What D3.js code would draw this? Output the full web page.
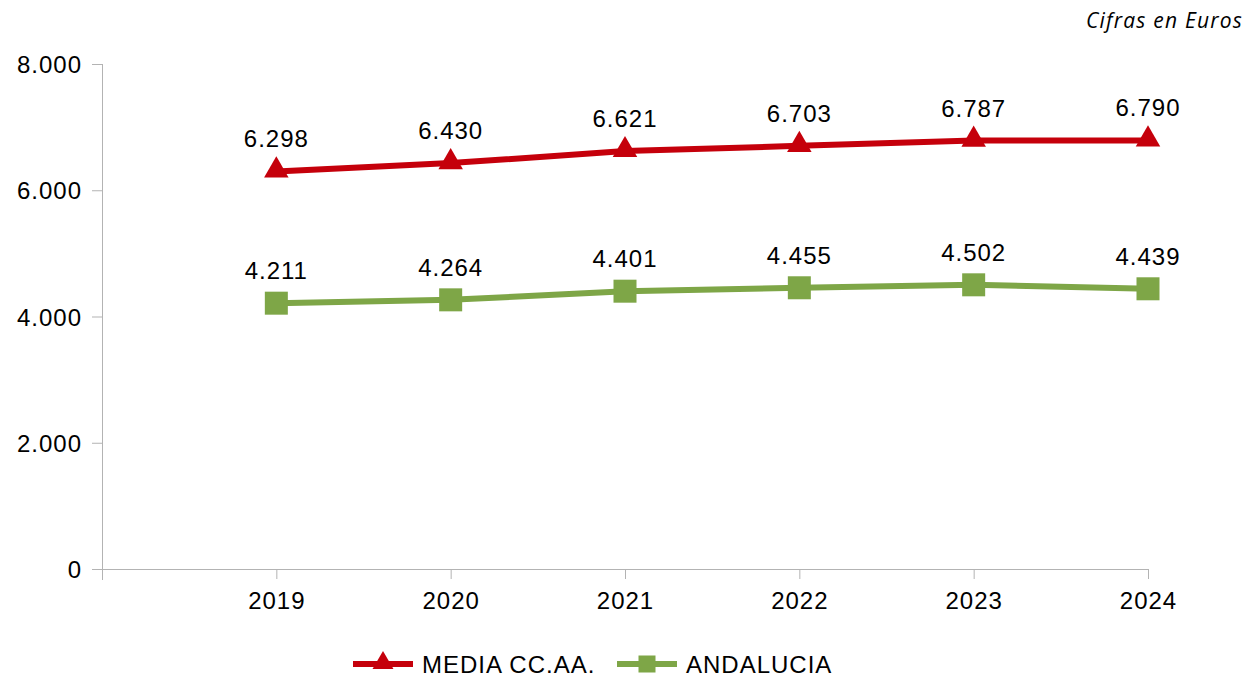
<!DOCTYPE html>
<html>
<head>
<meta charset="utf-8">
<script src="https://cdn.jsdelivr.net/npm/d3@7"></script>
<style>
  body { margin: 0; background: #fff; }
  svg text { font-family: "Liberation Sans", Arial, sans-serif; fill: #000; letter-spacing: 1px; }
</style>
</head>
<body>
<svg id="chart-svg" width="1247" height="677"></svg>
<script>
// data
var years = ["2019", "2020", "2021", "2022", "2023", "2024"];
var mediaCCAA = [6298, 6430, 6621, 6703, 6787, 6790];
var andalucia = [4211, 4264, 4401, 4455, 4502, 4439];
var yTicks = [0, 2000, 4000, 6000, 8000];

var series = [
	{ name: "MEDIA CC.AA.", values: mediaCCAA, color: "#C5000B", marker: "triangle" },
	{ name: "ANDALUCIA", values: andalucia, color: "#7EA647", marker: "square" }
];

var svg = d3.select('#chart-svg');
var plotLeft = 102, plotRight = 1148, plotTop = 64, plotBottom = 569;
var axisColor = "#b3b3b3";

// first slot is empty so 2019 sits one step away from the y axis
var xScale = d3.scalePoint().domain([""].concat(years)).range([plotLeft, plotRight]);
var yScale = d3.scaleLinear().domain([0, 8000]).range([plotBottom, plotTop]);

var fmt = function(v) {
	return d3.format(",")(v).replace(/,/g, ".");
};

// y axis
var yAxis = svg.append("g")
	.attr("class", "y axis")
	.attr("transform", "translate(" + plotLeft + ",0)")
	.call(d3.axisLeft(yScale).tickValues(yTicks).tickSize(10).tickPadding(10).tickFormat(fmt));
yAxis.select(".domain").attr("stroke", axisColor).attr("d", "M0.5," + plotTop + "V" + (plotBottom + 11));
yAxis.selectAll(".tick line").attr("stroke", axisColor);
yAxis.selectAll(".tick text").style("font-size", "24px").attr("dy", "0.36em");

// x axis
var xAxis = svg.append("g")
	.attr("class", "x axis")
	.attr("transform", "translate(0," + plotBottom + ")")
	.call(d3.axisBottom(xScale).tickValues(years).tickSize(10).tickPadding(13));
xAxis.select(".domain").attr("stroke", axisColor).attr("d", "M" + plotLeft + ",0.5H" + (plotRight + 0.5));
xAxis.selectAll(".tick line").attr("stroke", axisColor);
xAxis.selectAll(".tick text").style("font-size", "24px");

var line = d3.line()
	.x(function(d, i) { return xScale(years[i]); })
	.y(function(d) { return yScale(d); });

var triangle = d3.symbol().type(d3.symbolTriangle).size(260);

series.forEach(function(s) {
	svg.append("path")
		.datum(s.values)
		.attr("fill", "none")
		.attr("stroke", s.color)
		.attr("stroke-width", 6)
		.attr("d", line);

	var g = svg.append("g");
	s.values.forEach(function(v, i) {
		var x = xScale(years[i]), y = yScale(v);
		if (s.marker === "triangle") {
			g.append("path")
				.attr("d", triangle)
				.attr("transform", "translate(" + x + "," + (y - 1) + ")")
				.attr("fill", s.color);
		} else {
			g.append("rect")
				.attr("x", x - 11.5).attr("y", y - 11.5)
				.attr("width", 23).attr("height", 23)
				.attr("fill", s.color);
		}
		g.append("text")
			.attr("x", x)
			.attr("y", y - 24)
			.attr("text-anchor", "middle")
			.style("font-size", "24px")
			.text(fmt(v));
	});
});

// legend
var legend = svg.append("g").attr("class", "legend");
var legendX = [353, 617];
series.forEach(function(s, i) {
	var lx = legendX[i], ly = 664;
	legend.append("line")
		.attr("x1", lx).attr("x2", lx + 60)
		.attr("y1", ly).attr("y2", ly)
		.attr("stroke", s.color).attr("stroke-width", 6);
	if (s.marker === "triangle") {
		legend.append("path")
			.attr("d", d3.symbol().type(d3.symbolTriangle).size(190))
			.attr("transform", "translate(" + (lx + 30) + "," + (ly - 1) + ")")
			.attr("fill", s.color);
	} else {
		legend.append("rect")
			.attr("x", lx + 21.5).attr("y", ly - 8.5)
			.attr("width", 17).attr("height", 17)
			.attr("fill", s.color);
	}
	legend.append("text")
		.attr("x", lx + 69)
		.attr("y", ly + 9)
		.style("font-size", "24px")
		.text(s.name);
});

// note in the corner
svg.append("text")
	.attr("x", 1243)
	.attr("y", 28)
	.attr("text-anchor", "end")
	.style("font-family", "'Open Sans', sans-serif")
	.style("font-style", "italic")
	.style("font-size", "21px")
	.style("letter-spacing", "1.2px")
	.text("Cifras en Euros");
</script>
</body>
</html>
